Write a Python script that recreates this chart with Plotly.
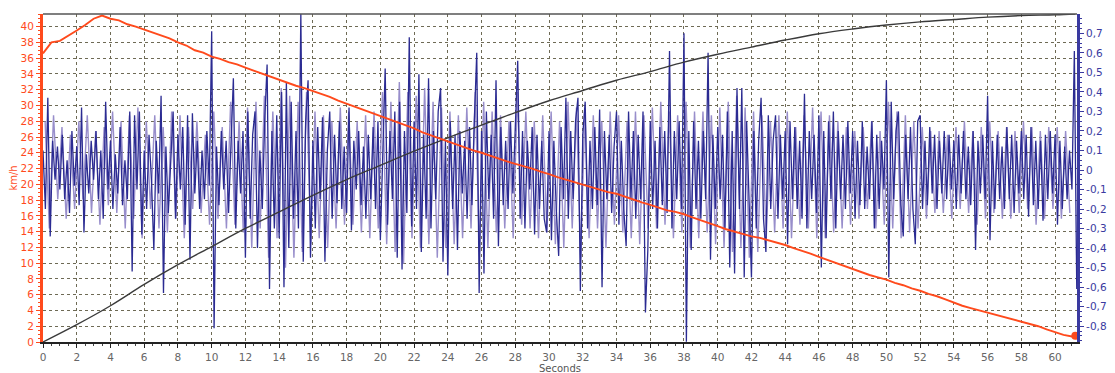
import plotly.graph_objects as go

# ---------------- data ----------------
SAMPLE_DARK = 7      # samples per second of the dark lateral signal
SAMPLE_LIGHT = 4     # samples per second of the light lateral signal

lat_dark = [
    0.10, -0.20, 0.37, -0.34, 0.15, -0.05, 0.12,
    -0.10, 0.18, -0.15, 0.05, -0.22, 0.20, -0.08,
    0.12, -0.18, 0.32, -0.32, 0.08, -0.12, 0.15,
    -0.05, 0.20, -0.15, 0.10, -0.25, 0.35, -0.10,
    0.15, -0.20, 0.08, -0.12, 0.22, -0.18, 0.05,
    -0.15, 0.30, -0.52, 0.28, -0.10, 0.30, -0.33,
    0.10, -0.20, 0.18, -0.05, -0.41, 0.15, -0.12,
    0.38, -0.63, 0.12, -0.22, 0.05, 0.30, -0.25,
    0.18, -0.10, 0.22, -0.28, 0.28, -0.46, 0.29,
    -0.12, 0.15, -0.20, 0.10, -0.15, 0.20, -0.08,
    0.71, -0.81, 0.12, -0.18, 0.20, -0.10, 0.15,
    -0.22, 0.08, 0.47, -0.30, 0.15, -0.12, 0.20,
    -0.45, 0.30, -0.25, 0.18, 0.30, -0.40, 0.10,
    -0.20, 0.25, 0.54, -0.61, 0.20, -0.30, 0.28,
    -0.35, 0.40, -0.60, 0.45, -0.40, 0.35, -0.25,
    0.20, -0.30, 0.80, -0.47, 0.25, 0.46, -0.45,
    0.15, -0.30, 0.22, -0.15, 0.27, -0.47, 0.10,
    0.30, -0.25, 0.18, -0.17, 0.25, -0.20, 0.12,
    -0.22, 0.32, -0.31, 0.15, -0.10, 0.20, -0.18,
    0.12, -0.25, 0.18, -0.15, 0.22, -0.20, 0.25,
    -0.36, 0.15, 0.52, -0.28, 0.20, -0.15, 0.30,
    -0.45, 0.35, -0.51, 0.20, -0.22, 0.68, -0.29,
    0.25, -0.20, 0.49, -0.42, 0.18, -0.25, 0.47,
    -0.30, 0.20, -0.15, 0.30, 0.42, -0.47, 0.15,
    -0.54, 0.25, -0.20, 0.18, -0.41, 0.20, -0.12,
    0.15, -0.25, 0.22, -0.18, 0.25, 0.60, -0.63,
    0.20, -0.53, 0.30, -0.15, 0.18, -0.25, 0.46,
    -0.39, 0.22, -0.18, 0.15, -0.20, 0.25, -0.12,
    0.18, 0.56, -0.25, 0.20, -0.30, 0.15, -0.10,
    0.22, -0.33, 0.18, -0.20, 0.15, -0.25, -0.32,
    0.20, -0.36, 0.15, -0.20, -0.44, 0.22, -0.15,
    0.37, -0.25, 0.20, -0.15, 0.25, 0.37, -0.62,
    0.18, 0.35, -0.30, 0.15, -0.20, 0.22, -0.18,
    0.31, -0.60, 0.20, -0.15, 0.18, -0.22, 0.12,
    0.30, -0.28, 0.15, -0.20, -0.39, 0.30, -0.15,
    0.20, -0.25, 0.18, -0.15, 0.30, -0.73, -0.41,
    0.25, -0.20, 0.15, -0.30, 0.22, -0.18, 0.20,
    -0.22, 0.61, -0.30, 0.20, -0.15, 0.25, -0.20,
    0.70, -0.88, 0.20, -0.41, 0.25, -0.20, 0.15,
    -0.25, 0.20, -0.15, 0.60, -0.46, 0.18, -0.20,
    0.22, -0.15, 0.18, -0.30, 0.30, -0.50, 0.20,
    -0.53, 0.42, -0.20, 0.42, -0.55, 0.25, -0.18,
    -0.55, 0.20, -0.30, 0.15, 0.37, -0.25, -0.42,
    0.28, -0.20, 0.15, 0.28, -0.25, 0.18, -0.15,
    0.20, -0.38, 0.25, -0.15, 0.22, -0.20, 0.15,
    -0.25, 0.39, -0.30, 0.20, -0.15, 0.18, -0.22,
    0.28, -0.50, 0.20, -0.35, 0.25, -0.15, 0.30,
    -0.30, 0.20, -0.15, 0.18, -0.20, 0.25, -0.12,
    0.20, -0.25, 0.15, -0.18, 0.25, -0.20, 0.12,
    -0.15, 0.25, -0.30, 0.18, -0.20, 0.15, -0.10,
    0.46, -0.55, 0.35, -0.15, 0.20, 0.30, -0.18,
    -0.34, 0.18, -0.15, 0.22, -0.20, -0.38, 0.25,
    0.28, -0.20, 0.15, -0.18, 0.22, -0.12, 0.18,
    -0.20, 0.15, -0.12, 0.20, -0.15, 0.18, -0.10,
    0.15, -0.20, 0.18, -0.12, 0.20, -0.15, 0.12,
    -0.18, 0.20, -0.41, 0.15, -0.12, 0.18, -0.15,
    0.38, -0.36, 0.15, -0.20, 0.18, -0.15, 0.12,
    -0.20, 0.22, -0.15, 0.18, -0.22, 0.15, -0.12,
    0.20, -0.15, 0.18, -0.24, 0.22, -0.18, 0.15,
    -0.20, 0.15, -0.26, 0.18, -0.15, 0.20, -0.12,
    0.18, -0.28, 0.15, -0.20, 0.12, -0.15, 0.10,
    -0.10, 0.61, -0.61,
]

lat_light = [
    0.25, -0.30, 0.28, -0.15,   0.22, -0.25, 0.18, -0.20,
    0.25, -0.15, 0.28, -0.22,   0.20, -0.28, 0.22, -0.18,
    0.30, -0.22, 0.25, -0.30,   0.28, -0.25, 0.32, -0.35,
    0.25, -0.20, 0.28, -0.30,   0.22, -0.32, 0.30, -0.25,
    0.28, -0.35, 0.22, -0.20,   0.25, -0.22, 0.18, -0.28,
    0.30, -0.25, 0.22, -0.30,   0.35, -0.28, 0.25, -0.32,
    0.32, -0.40, 0.35, -0.30,   0.38, -0.45, 0.30, -0.35,
    0.42, -0.50, 0.38, -0.45,   0.35, -0.42, 0.40, -0.38,
    0.30, -0.35, 0.28, -0.40,   0.25, -0.30, 0.32, -0.28,
    0.30, -0.28, 0.25, -0.32,   0.28, -0.35, 0.30, -0.30,
    0.40, -0.38, 0.35, -0.42,   0.45, -0.48, 0.40, -0.35,
    0.38, -0.40, 0.42, -0.38,   0.35, -0.45, 0.32, -0.40,
    0.30, -0.38, 0.28, -0.35,   0.32, -0.30, 0.40, -0.42,
    0.35, -0.40, 0.30, -0.32,   0.28, -0.30, 0.25, -0.35,
    0.40, -0.28, 0.30, -0.30,   0.25, -0.35, 0.28, -0.32,
    0.30, -0.38, 0.25, -0.40,   0.35, -0.30, 0.32, -0.45,
    0.30, -0.35, 0.28, -0.30,   0.25, -0.40, 0.30, -0.28,
    0.28, -0.32, 0.25, -0.35,   0.30, -0.38, 0.28, -0.30,
    0.32, -0.30, 0.35, -0.28,   0.30, -0.35, 0.28, -0.32,
    0.35, -0.40, 0.30, -0.35,   0.30, -0.32, 0.28, -0.38,
    0.32, -0.40, 0.35, -0.42,   0.38, -0.40, 0.32, -0.45,
    0.30, -0.42, 0.28, -0.35,   0.25, -0.32, 0.28, -0.30,
    0.30, -0.35, 0.22, -0.28,   0.28, -0.30, 0.32, -0.35,
    0.30, -0.35, 0.28, -0.32,   0.25, -0.30, 0.22, -0.28,
    0.20, -0.25, 0.22, -0.20,   0.25, -0.30, 0.20, -0.28,
    0.35, -0.30, 0.30, -0.35,   0.28, -0.32, 0.25, -0.30,
    0.22, -0.25, 0.20, -0.22,   0.20, -0.22, 0.18, -0.25,
    0.22, -0.20, 0.25, -0.22,   0.20, -0.28, 0.22, -0.25,
    0.25, -0.22, 0.20, -0.25,   0.22, -0.25, 0.20, -0.22,
    0.25, -0.20, 0.22, -0.28,   0.20, -0.25, 0.22, -0.20,
    0.22, -0.25, 0.20, -0.22,
]

speed_t = [
    0, 0.5, 1, 1.5, 2, 2.5, 3, 3.5, 4, 4.5, 5, 5.5, 6, 6.5, 7, 7.5, 8, 8.5, 9, 9.5,
    10, 10.5, 11, 11.5, 12, 12.5, 13, 13.5, 14, 14.5, 15, 15.5, 16, 16.5, 17, 17.5,
    18, 18.5, 19, 19.5, 20, 20.5, 21, 21.5, 22, 22.5, 23, 23.5, 24, 24.5, 25, 25.5,
    26, 26.5, 27, 27.5, 28, 28.5, 29, 29.5, 30, 30.5, 31, 31.5, 32, 32.5, 33, 33.5,
    34, 34.5, 35, 35.5, 36, 36.5, 37, 37.5, 38, 38.5, 39, 39.5, 40, 40.5, 41, 41.5,
    42, 42.5, 43, 43.5, 44, 44.5, 45, 45.5, 46, 46.5, 47, 47.5, 48, 48.5, 49, 49.5,
    50, 50.5, 51, 51.5, 52, 52.5, 53, 53.5, 54, 54.5, 55, 55.5, 56, 56.5, 57, 57.5,
    58, 58.5, 59, 59.5, 60, 60.5, 61, 61.2,
]
speed_kmh = [
    36.6, 38.0, 38.2, 38.8, 39.5, 40.2, 41.0, 41.4, 41.0, 40.8, 40.3, 40.0, 39.6, 39.3,
    38.8, 38.5, 38.0, 37.6, 37.0, 36.7, 36.2, 35.9, 35.5, 35.2, 34.8, 34.4, 34.0, 33.7,
    33.3, 32.9, 32.5, 32.2, 31.8, 31.5, 31.1, 30.6, 30.2, 29.8, 29.4, 29.0, 28.7, 28.3,
    27.9, 27.5, 27.1, 26.6, 26.2, 25.8, 25.4, 25.0, 24.6, 24.3, 24.0, 23.6, 23.3, 22.9,
    22.6, 22.3, 22.0, 21.6, 21.3, 20.9, 20.6, 20.2, 19.9, 19.6, 19.3, 19.0, 18.8, 18.4,
    18.1, 17.7, 17.4, 17.0, 16.7, 16.5, 16.2, 15.8, 15.4, 15.0, 14.7, 14.3, 14.0, 13.7,
    13.4, 13.2, 12.9, 12.6, 12.3, 11.9, 11.6, 11.2, 10.8, 10.4, 10.0, 9.6, 9.2, 8.8,
    8.5, 8.2, 7.9, 7.5, 7.2, 6.8, 6.5, 6.1, 5.8, 5.4, 5.0, 4.6, 4.3, 4.0, 3.8, 3.5,
    3.2, 2.9, 2.6, 2.3, 2.0, 1.6, 1.3, 0.9, 0.7, 0.8,
]

dist_t = [0, 2, 4, 6, 8, 10, 12, 14, 16, 18, 20, 22, 24, 26, 28, 30, 32, 34, 36, 38,
          40, 42, 44, 46, 48, 50, 52, 54, 56, 58, 60, 61.2]
dist_v = [0, 2.2, 4.6, 7.3, 9.8, 12.1, 14.4, 16.5, 18.6, 20.6, 22.4, 24.2, 25.9, 27.5,
          29.1, 30.6, 31.9, 33.2, 34.3, 35.5, 36.5, 37.4, 38.3, 39.1, 39.7, 40.2, 40.6,
          40.9, 41.2, 41.4, 41.5, 41.6]

x_ticks = list(range(0, 61, 2))
left_ticks = list(range(0, 41, 2))
right_vals = [-0.8, -0.7, -0.6, -0.5, -0.4, -0.3, -0.2, -0.1, 0, 0.1, 0.2, 0.3, 0.4, 0.5, 0.6, 0.7]
right_text = ["-0,8", "-0,7", "-0,6", "-0,5", "-0,4", "-0,3", "-0,2", "-0,1", "0",
              "0,1", "0,2", "0,3", "0,4", "0,5", "0,6", "0,7"]

# ---------------- styling ----------------
RED = "#ff4a1c"
DARK_BLUE = "#2b2b92"
LIGHT_BLUE = "#8d82c6"
BLUE_AXIS = "#3a3aa0"
GRID = "#6e6a55"
FONT = "DejaVu Sans"

t_dark = [i / SAMPLE_DARK for i in range(len(lat_dark))]
t_light = [(i + 0.5) / SAMPLE_LIGHT for i in range(len(lat_light))]

fig = go.Figure()

fig.add_trace(go.Scatter(x=t_light, y=lat_light, mode="lines", yaxis="y",
                         line=dict(color=LIGHT_BLUE, width=1.4), opacity=0.9,
                         showlegend=False, hoverinfo="skip"))
fig.add_trace(go.Scatter(x=t_dark, y=lat_dark, mode="lines", yaxis="y",
                         line=dict(color=DARK_BLUE, width=1.3),
                         showlegend=False))
fig.add_trace(go.Scatter(x=dist_t, y=dist_v, mode="lines", yaxis="y2",
                         line=dict(color="#3a3a3a", width=1.4, shape="spline"),
                         showlegend=False))
fig.add_trace(go.Scatter(x=speed_t, y=speed_kmh, mode="lines", yaxis="y2",
                         line=dict(color=RED, width=1.9),
                         showlegend=False))
fig.add_trace(go.Scatter(x=[speed_t[-1]], y=[speed_kmh[-1]], mode="markers", yaxis="y2",
                         marker=dict(color=RED, size=8),
                         showlegend=False))

fig.update_layout(
    width=1115, height=373,
    margin=dict(l=35, r=46, t=6, b=39, autoexpand=False),
    paper_bgcolor="white",
    plot_bgcolor="white",
    font=dict(family=FONT, size=10, color="#555555"),
    xaxis=dict(
        range=[0, 61.3], tickvals=x_ticks, ticktext=[str(v) for v in x_ticks],
        automargin=False,
        showgrid=True, gridcolor=GRID, griddash="3px,3px", gridwidth=1,
        showline=True, linecolor="#222222", linewidth=2,
        ticks="outside", ticklen=4, tickcolor="#222222",
        minor=dict(ticks="outside", ticklen=2, dtick=0.5, tickcolor="#444444", showgrid=False),
        tickfont=dict(family=FONT, size=10.5, color="#666666"),
        title=dict(text="Seconds", font=dict(family=FONT, size=10, color="#555555"), standoff=3),
        zeroline=False,
    ),
    yaxis=dict(  # right axis: lateral
        side="right",
        range=[-0.881, 0.799],
        automargin=False,
        tickvals=right_vals, ticktext=right_text,
        showgrid=False, zeroline=False,
        showline=True, linecolor=BLUE_AXIS, linewidth=3,
        ticks="outside", ticklen=4, tickcolor=BLUE_AXIS,
        minor=dict(ticks="outside", ticklen=2, dtick=0.025, tickcolor=BLUE_AXIS),
        tickfont=dict(family=FONT, size=10.5, color=BLUE_AXIS),
        title=dict(text="Latéral (g)", font=dict(family=FONT, size=10, color=BLUE_AXIS), standoff=4),
    ),
    yaxis2=dict(  # left axis: speed
        overlaying="y", side="left",
        range=[0, 41.6],
        automargin=False,
        tickvals=left_ticks, ticktext=[str(v) for v in left_ticks],
        showgrid=True, gridcolor=GRID, griddash="3px,3px", gridwidth=1,
        zeroline=False,
        showline=True, linecolor=RED, linewidth=3,
        ticks="outside", ticklen=4, tickcolor=RED,
        minor=dict(ticks="outside", ticklen=2, dtick=0.5, tickcolor=RED, showgrid=False),
        tickfont=dict(family=FONT, size=10.5, color=RED),
        title=dict(text="km/h", font=dict(family=FONT, size=10, color=RED), standoff=2),
    ),
    shapes=[dict(type="line", xref="paper", yref="paper", x0=0, x1=1, y0=1, y1=1,
                 line=dict(color="#555555", width=1.5))],
)

fig.write_html("out.html")
